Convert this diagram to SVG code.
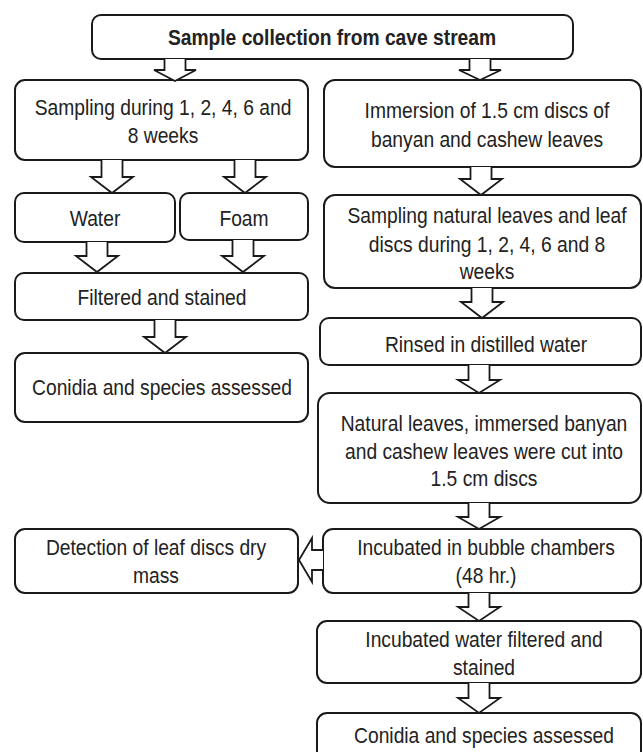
<svg xmlns="http://www.w3.org/2000/svg" width="643" height="752" viewBox="0 0 643 752">
<style>
.box{fill:#fff;stroke:#1a1a1a;stroke-width:2}
.arr{fill:#fff;stroke:#1a1a1a;stroke-width:1.8;stroke-linejoin:miter}
.t{font-family:"Liberation Sans",Arial,sans-serif;font-size:22px;fill:#222;text-anchor:middle}
.b{font-weight:bold}
</style>
<rect x="0" y="0" width="643" height="752" fill="#fff"/>
<g id="n-top"><rect class="box" x="92" y="15" width="481" height="44" rx="9"/>
<text class="t b" transform="matrix(0.875 0 0 1 332 0)"><tspan x="0" y="45">Sample collection from cave stream</tspan></text></g>
<g id="n-l1"><rect class="box" x="15" y="80" width="293" height="80" rx="10"/>
<text class="t" transform="matrix(0.875 0 0 1 163 0)"><tspan x="0" y="115">Sampling during 1, 2, 4, 6 and</tspan><tspan x="0" y="143">8 weeks</tspan></text></g>
<g id="n-water"><rect class="box" x="15" y="193" width="160" height="49" rx="9"/>
<text class="t" transform="matrix(0.875 0 0 1 95 0)"><tspan x="0" y="226">Water</tspan></text></g>
<g id="n-foam"><rect class="box" x="180" y="193" width="128" height="47" rx="9"/>
<text class="t" transform="matrix(0.875 0 0 1 244 0)"><tspan x="0" y="226">Foam</tspan></text></g>
<g id="n-filtered"><rect class="box" x="15" y="273" width="293" height="47" rx="9"/>
<text class="t" transform="matrix(0.875 0 0 1 162 0)"><tspan x="0" y="305">Filtered and stained</tspan></text></g>
<g id="n-conidia-l"><rect class="box" x="15" y="353" width="293" height="69" rx="10"/>
<text class="t" transform="matrix(0.875 0 0 1 162 0)"><tspan x="0" y="395">Conidia and species assessed</tspan></text></g>
<g id="n-r1"><rect class="box" x="324" y="80" width="317" height="87" rx="11"/>
<text class="t" transform="matrix(0.875 0 0 1 487 0)"><tspan x="0" y="118">Immersion of 1.5 cm discs of</tspan><tspan x="0" y="147">banyan and cashew leaves</tspan></text></g>
<g id="n-r2"><rect class="box" x="324" y="195" width="317" height="93" rx="11"/>
<text class="t" transform="matrix(0.875 0 0 1 487 0)"><tspan x="0" y="223">Sampling natural leaves and leaf</tspan><tspan x="0" y="252">discs during 1, 2, 4, 6 and 8</tspan><tspan x="0" y="279">weeks</tspan></text></g>
<g id="n-r3"><rect class="box" x="320" y="318" width="321" height="47" rx="9"/>
<text class="t" transform="matrix(0.875 0 0 1 486 0)"><tspan x="0" y="352">Rinsed in distilled water</tspan></text></g>
<g id="n-r4"><rect class="box" x="318" y="393" width="323" height="110" rx="12"/>
<text class="t" transform="matrix(0.875 0 0 1 484 0)"><tspan x="0" y="431">Natural leaves, immersed banyan</tspan><tspan x="0" y="459">and cashew leaves were cut into</tspan><tspan x="0" y="486">1.5 cm discs</tspan></text></g>
<g id="n-r5"><rect class="box" x="323" y="529" width="318" height="64" rx="10"/>
<text class="t" transform="matrix(0.875 0 0 1 486 0)"><tspan x="0" y="555">Incubated in bubble chambers</tspan><tspan x="0" y="583">(48 hr.)</tspan></text></g>
<g id="n-detect"><rect class="box" x="15" y="529" width="283" height="64" rx="10"/>
<text class="t" transform="matrix(0.875 0 0 1 156 0)"><tspan x="0" y="555">Detection of leaf discs dry</tspan><tspan x="0" y="583">mass</tspan></text></g>
<g id="n-r6"><rect class="box" x="317" y="621" width="324" height="62" rx="10"/>
<text class="t" transform="matrix(0.875 0 0 1 484 0)"><tspan x="0" y="647">Incubated water filtered and</tspan><tspan x="0" y="675">stained</tspan></text></g>
<g id="n-r7"><rect class="box" x="317" y="713" width="324" height="60" rx="10"/>
<text class="t" transform="matrix(0.875 0 0 1 484 0)"><tspan x="0" y="743">Conidia and species assessed</tspan></text></g>
<g id="connectors">
<path class="arr" d="M164.5,59 V70 H154 L175,81 L196,70 H185.5 V59"/>
<path class="arr" d="M469.5,59 V70 H459 L480,80 L501,70 H490.5 V59"/>
<path class="arr" d="M101.5,160 V177 H91 L112,193 L133,177 H122.5 V160"/>
<path class="arr" d="M234.5,160 V177 H224 L245,193 L266,177 H255.5 V160"/>
<path class="arr" d="M86.5,242 V256 H76 L97,272 L118,256 H107.5 V242"/>
<path class="arr" d="M232.5,240 V256 H222 L243,272 L264,256 H253.5 V240"/>
<path class="arr" d="M154.5,320 V337 H144 L165,353 L186,337 H175.5 V320"/>
<path class="arr" d="M470.5,167 V179 H460 L481,195 L502,179 H491.5 V167"/>
<path class="arr" d="M471.5,288 V302 H461 L482,318 L503,302 H492.5 V288"/>
<path class="arr" d="M468.5,365 V380 H458 L479,393 L500,380 H489.5 V365"/>
<path class="arr" d="M468.5,503 V517 H458 L479,529 L500,517 H489.5 V503"/>
<path class="arr" d="M468.5,593 V607 H458 L479,621 L500,607 H489.5 V593"/>
<path class="arr" d="M468.5,683 V698 H458 L479,713 L500,698 H489.5 V683"/>
<path class="arr" d="M323,550 H312 V538 L299,560 L312,582 V570 H323"/>
</g>
</svg>
